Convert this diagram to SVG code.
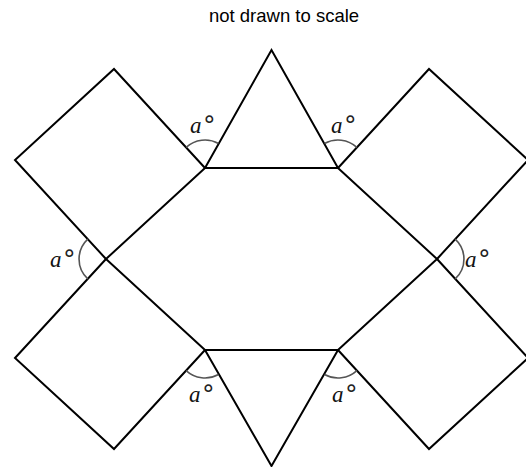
<svg xmlns="http://www.w3.org/2000/svg" width="526" height="467" viewBox="0 0 526 467">
<style>
.e{fill:none;stroke:#000;stroke-width:2;stroke-linejoin:miter}
.arc{fill:none;stroke:#555;stroke-width:1.6}
.lbl{font-family:"Liberation Serif","DejaVu Serif",serif;font-style:italic;font-size:23px;fill:#111}
.deg{font-family:"DejaVu Sans",sans-serif;font-style:normal;font-size:25px;fill:#222}
.title{font-family:"Liberation Sans",Arial,sans-serif;font-size:18.5px;fill:#000}
</style>
<rect width="526" height="467" fill="#fff"/>
<text class="title" x="284" y="22" text-anchor="middle">not drawn to scale</text>
<g id="hexagon"><polygon class="e" points="205,168 338,168 437,259 338,350 205,350 106,259"/></g>
<g id="triangle-top"><polyline class="e" points="205,168 271.5,50 338,168"/></g>
<g id="triangle-bottom"><polyline class="e" points="205,350 271.5,466 338,350"/></g>
<g id="square-tl"><polyline class="e" points="205,168 114,69 15,160 106,259"/></g>
<g id="square-tr"><polyline class="e" points="338,168 429,69 528,160 437,259"/></g>
<g id="square-bl"><polyline class="e" points="106,259 15,358 114,449 205,350"/></g>
<g id="square-br"><polyline class="e" points="437,259 528,358 429,449 338,350"/></g>
<g id="angles">
<path class="arc" d="M186.1,147.4 A28,28 0 0 1 218.5,143.5"/>
<path class="arc" d="M324.5,143.5 A28,28 0 0 1 356.9,147.4"/>
<path class="arc" d="M87.8,239.1 A27,27 0 0 0 87.8,278.9"/>
<path class="arc" d="M455.2,239.1 A27,27 0 0 1 455.2,278.9"/>
<path class="arc" d="M186.1,370.6 A28,28 0 0 0 218.5,374.5"/>
<path class="arc" d="M324.5,374.5 A28,28 0 0 0 356.9,370.6"/>
</g>
<g id="labels">
<text class="lbl" x="190" y="133">a<tspan class="deg" dx="0" dy="-6">∘</tspan></text>
<text class="lbl" x="331" y="133">a<tspan class="deg" dx="0" dy="-6">∘</tspan></text>
<text class="lbl" x="50" y="267">a<tspan class="deg" dx="0" dy="-6">∘</tspan></text>
<text class="lbl" x="465" y="267">a<tspan class="deg" dx="0" dy="-6">∘</tspan></text>
<text class="lbl" x="189" y="402">a<tspan class="deg" dx="0" dy="-6">∘</tspan></text>
<text class="lbl" x="332" y="402">a<tspan class="deg" dx="0" dy="-6">∘</tspan></text>
</g>
</svg>
